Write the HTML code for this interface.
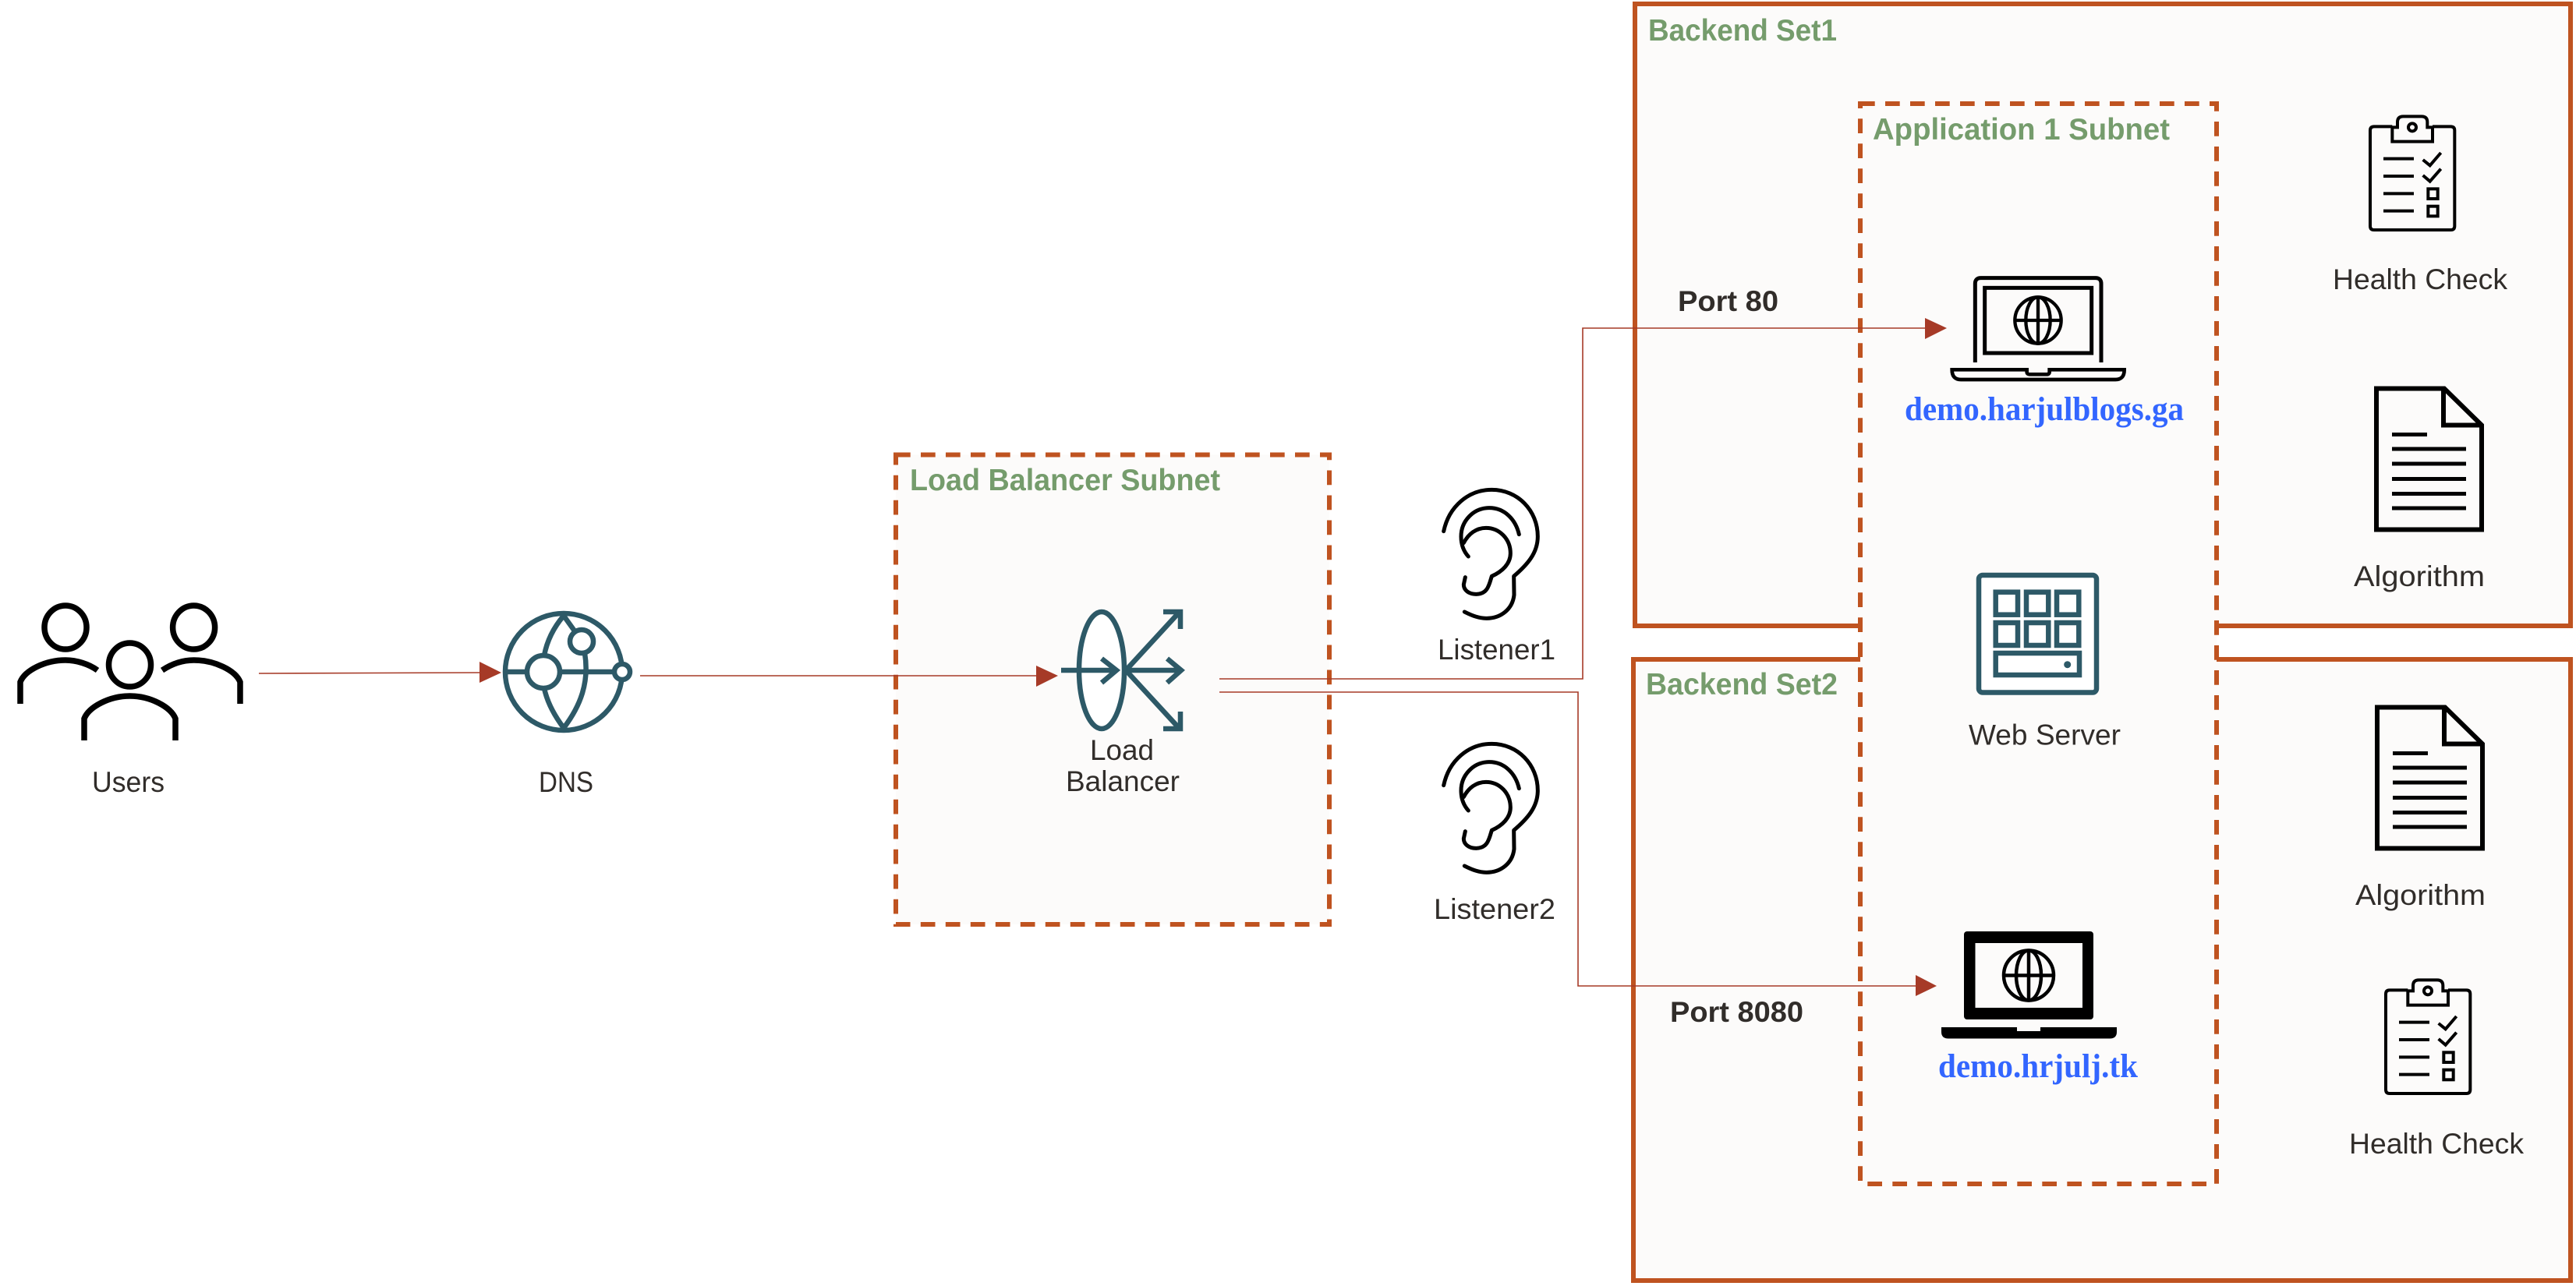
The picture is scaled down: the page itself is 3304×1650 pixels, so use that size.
<!DOCTYPE html>
<html><head><meta charset="utf-8"><style>
html,body{margin:0;padding:0;background:#fff;width:3304px;height:1650px;overflow:hidden}
svg{display:block}
text{font-family:"Liberation Sans",sans-serif;fill:#312D2A;font-size:37px}
.g{font-weight:bold;fill:#759C6C;font-size:39px}
.p{font-weight:bold;font-size:37px}
.b{font-family:"Liberation Serif",serif;font-weight:bold;fill:#3366FF;font-size:43px}
</style></head><body>
<svg xmlns="http://www.w3.org/2000/svg" width="3304" height="1650" viewBox="0 0 3304 1650">
<rect width="3304" height="1650" fill="#fff"/>
<!-- containers -->
<rect x="2097" y="5" width="1200" height="798" fill="#FCFBFA" stroke="#BF5320" stroke-width="6"/>
<rect x="2095" y="846" width="1202" height="797" fill="#FCFBFA" stroke="#BF5320" stroke-width="6"/>
<rect x="1149" y="583.5" width="556" height="602.5" fill="#FCFBFA" stroke="#BF5320" stroke-width="6" stroke-dasharray="18.7 13.3"/>
<rect x="2386" y="133" width="457" height="1386" fill="#FCFBFA" stroke="#BF5320" stroke-width="6" stroke-dasharray="18.7 13.3"/>

<!-- connectors -->
<g fill="none" stroke="#A63A27" stroke-width="1.6">
<path d="M332 864 L616 863"/>
<path d="M821 867 H1330"/>
<path d="M1564 871 H2030 V421 H2470"/>
<path d="M1564 888 H2024 V1265 H2458"/>
</g>
<g fill="#A63A27">
<path d="M615 849 L643 863 L615 876Z"/>
<path d="M1329 854 L1357 867 L1329 881Z"/>
<path d="M2469 408 L2497 421 L2469 435Z"/>
<path d="M2457 1251 L2484 1265 L2457 1278Z"/>
</g>

<!-- users -->
<g fill="none" stroke="#000" stroke-width="7.5">
<ellipse cx="84" cy="805" rx="27" ry="28"/>
<ellipse cx="248.6" cy="805" rx="27" ry="28"/>
<ellipse cx="166.5" cy="853" rx="27" ry="28"/>
<path d="M26 903 V875 C32 860 58 847 84 847 C98 847 114 852 125 860"/>
<path d="M308 903 V875 C302 860 275 847 248.6 847 C234 847 220 852 208 860"/>
<path d="M108 950 V922 C114 907 140 893 166.5 893 C193 893 219 907 225 922 V950"/>
</g>

<!-- dns -->
<g fill="none" stroke="#2D5967" stroke-width="6.5">
<circle cx="723" cy="862" r="75"/>
<path d="M648 862 H676 M718 862 H788"/>
<path d="M723 790 C711 804 702 820 698 841"/>
<path d="M698 883 C702 902 711 918 723 934"/>
<path d="M723 790 L738 811"/>
<path d="M750 838 C756 875 745 905 723 934"/>
<circle cx="697" cy="862" r="21" fill="#fff"/>
<circle cx="746" cy="823" r="15" fill="#fff"/>
<circle cx="798" cy="862" r="10" fill="#fff"/>
</g>

<!-- load balancer -->
<g fill="none" stroke="#2D5967" stroke-width="6.5">
<ellipse cx="1413" cy="860" rx="29" ry="75" fill="#fff"/>
<path d="M1361 860 H1431 M1413 845 L1432 860 L1413 876"/>
<path d="M1444 860 H1513 M1497 845 L1515 860 L1497 876"/>
<path d="M1444 860 L1513 785 M1492 785 H1514 V807"/>
<path d="M1444 860 L1513 935 M1492 935 H1514 V913"/>
</g>

<!-- ears -->
<g fill="none" stroke="#000" stroke-width="15" stroke-linecap="round" stroke-linejoin="round" transform="translate(1800 600) scale(.33333)">
<path d="M155 245 C175 150 250 85 340 85 C440 85 517 165 517 265 C517 330 475 375 425 418 L426 490 C420 545 375 580 320 580 C290 580 265 570 235 555"/>
<path d="M250 342 C232 322 222 295 222 265 C222 205 270 155 330 155 C390 155 432 200 445 257"/>
<path d="M232 290 C250 255 280 232 318 232 C370 232 412 275 412 330 C412 370 380 400 340 418 C330 450 325 487 280 487 C250 487 232 470 232 450 L238 422"/>
</g>
<g fill="none" stroke="#000" stroke-width="15" stroke-linecap="round" stroke-linejoin="round" transform="translate(1800 926) scale(.33333)">
<path d="M155 245 C175 150 250 85 340 85 C440 85 517 165 517 265 C517 330 475 375 425 418 L426 490 C420 545 375 580 320 580 C290 580 265 570 235 555"/>
<path d="M250 342 C232 322 222 295 222 265 C222 205 270 155 330 155 C390 155 432 200 445 257"/>
<path d="M232 290 C250 255 280 232 318 232 C370 232 412 275 412 330 C412 370 380 400 340 418 C330 450 325 487 280 487 C250 487 232 470 232 450 L238 422"/>
</g>

<!-- laptop 1 -->
<g fill="none" stroke="#000" stroke-width="15" transform="translate(2440 330) scale(.33333)">
<path d="M280 405 V102 Q280 80 302 80 H743 Q765 80 765 102 V405"/>
<rect x="317" y="118" width="411" height="251"/>
<g stroke-width="13">
<circle cx="522" cy="243" r="89"/>
<ellipse cx="522" cy="243" rx="47" ry="89"/>
<path d="M522 154 V332 M433 243 H611"/>
</g>
<path stroke-width="14" d="M191 433 H479 V441 Q479 451 491 451 H555 Q566 451 566 441 V433 H854 Q854 471 820 471 H225 Q191 471 191 433Z"/>
</g>

<!-- laptop 2 -->
<rect x="2519" y="1195" width="166" height="113" rx="4" fill="#000"/>
<rect x="2533.5" y="1210" width="137.5" height="83" fill="#FCFBFA"/>
<g fill="none" stroke="#000" stroke-width="4.5">
<circle cx="2602" cy="1251.5" r="32"/>
<ellipse cx="2602" cy="1251.5" rx="16" ry="32"/>
<path d="M2602 1219.5 V1283.5 M2570 1251.5 H2634"/>
</g>
<path d="M2490 1318 H2715 V1324 Q2715 1332.5 2706 1332.5 H2499 Q2490 1332.5 2490 1324Z" fill="#000"/>
<rect x="2587" y="1318" width="30" height="5" fill="#FCFBFA"/>

<!-- web server -->
<g fill="#fff" stroke="#2D5967" stroke-width="6.5">
<rect x="2538" y="738" width="151" height="150.5" rx="5"/>
<rect x="2559.7" y="759.7" width="28.3" height="29"/>
<rect x="2599" y="759.7" width="28.3" height="29"/>
<rect x="2638" y="759.7" width="28.3" height="29"/>
<rect x="2559.7" y="799" width="28.3" height="29"/>
<rect x="2599" y="799" width="28.3" height="29"/>
<rect x="2638" y="799" width="28.3" height="29"/>
<rect x="2559.7" y="838" width="107.3" height="28"/>
</g>
<circle cx="2651.7" cy="852.7" r="4.5" fill="#2D5967"/>

<!-- clipboards -->
<g fill="none" stroke="#000" stroke-width="12" transform="translate(2960 130) scale(.33333)">
<path d="M325 97 H255 Q240 97 240 112 V480 Q240 495 255 495 H550 Q565 495 565 480 V112 Q565 97 550 97 H480"/>
<path d="M345 100 H325 V155 H480 V100 H460 V80 Q460 58 438 58 H367 Q345 58 345 80Z"/>
<circle cx="402" cy="100" r="15"/>
<path d="M291 221 H408 M291 288 H408 M291 355 H408 M291 422 H408"/>
<path d="M443 225 L470 247 L512 198 M443 285 L470 308 L512 260"/>
<rect x="463" y="337" width="37" height="38"/>
<rect x="463" y="404" width="37" height="38"/>
</g>
<g fill="none" stroke="#000" stroke-width="12" transform="translate(2980 1238) scale(.33333)">
<path d="M325 97 H255 Q240 97 240 112 V480 Q240 495 255 495 H550 Q565 495 565 480 V112 Q565 97 550 97 H480"/>
<path d="M345 100 H325 V155 H480 V100 H460 V80 Q460 58 438 58 H367 Q345 58 345 80Z"/>
<circle cx="402" cy="100" r="15"/>
<path d="M291 221 H408 M291 288 H408 M291 355 H408 M291 422 H408"/>
<path d="M443 225 L470 247 L512 198 M443 285 L470 308 L512 260"/>
<rect x="463" y="337" width="37" height="38"/>
<rect x="463" y="404" width="37" height="38"/>
</g>

<!-- docs -->
<g fill="none" stroke="#000" stroke-width="6">
<path d="M3048 498.5 H3135 L3183 545.5 V679.5 H3048Z M3134 498.5 V545.5 H3183"/>
<path stroke-width="5" d="M3068 557.5 H3113 M3068 576 H3163 M3068 595 H3163 M3068 614.5 H3163 M3068 633.5 H3163 M3068 652 H3163"/>
</g>
<g fill="none" stroke="#000" stroke-width="6" transform="translate(1 409)">
<path d="M3048 498.5 H3135 L3183 545.5 V679.5 H3048Z M3134 498.5 V545.5 H3183"/>
<path stroke-width="5" d="M3068 557.5 H3113 M3068 576 H3163 M3068 595 H3163 M3068 614.5 H3163 M3068 633.5 H3163 M3068 652 H3163"/>
</g>

<!-- labels -->
<text x="118" y="1016" textLength="93" lengthAdjust="spacingAndGlyphs">Users</text>
<text x="691" y="1016" textLength="70" lengthAdjust="spacingAndGlyphs">DNS</text>
<text x="1398" y="975" textLength="82" lengthAdjust="spacingAndGlyphs">Load</text>
<text x="1367" y="1015" textLength="146" lengthAdjust="spacingAndGlyphs">Balancer</text>
<text x="1844" y="846" textLength="151" lengthAdjust="spacingAndGlyphs">Listener1</text>
<text x="1839" y="1179" textLength="156" lengthAdjust="spacingAndGlyphs">Listener2</text>
<text x="2992" y="371" textLength="224" lengthAdjust="spacingAndGlyphs">Health Check</text>
<text x="3019" y="752" textLength="168" lengthAdjust="spacingAndGlyphs">Algorithm</text>
<text x="2525" y="955.5" textLength="195" lengthAdjust="spacingAndGlyphs">Web Server</text>
<text x="3021" y="1161" textLength="167" lengthAdjust="spacingAndGlyphs">Algorithm</text>
<text x="3013" y="1480" textLength="224" lengthAdjust="spacingAndGlyphs">Health Check</text>
<text class="g" x="1167" y="629" textLength="398" lengthAdjust="spacingAndGlyphs">Load Balancer Subnet</text>
<text class="g" x="2114" y="52" textLength="242" lengthAdjust="spacingAndGlyphs">Backend Set1</text>
<text class="g" x="2402" y="179" textLength="381" lengthAdjust="spacingAndGlyphs">Application 1 Subnet</text>
<text class="g" x="2111" y="891" textLength="246" lengthAdjust="spacingAndGlyphs">Backend Set2</text>
<text class="p" x="2152" y="399" textLength="129" lengthAdjust="spacingAndGlyphs">Port 80</text>
<text class="p" x="2142" y="1311" textLength="171" lengthAdjust="spacingAndGlyphs">Port 8080</text>
<text class="b" x="2443" y="539" textLength="358" lengthAdjust="spacingAndGlyphs">demo.harjulblogs.ga</text>
<text class="b" x="2486" y="1382" textLength="256" lengthAdjust="spacingAndGlyphs">demo.hrjulj.tk</text>
</svg>
</body></html>
